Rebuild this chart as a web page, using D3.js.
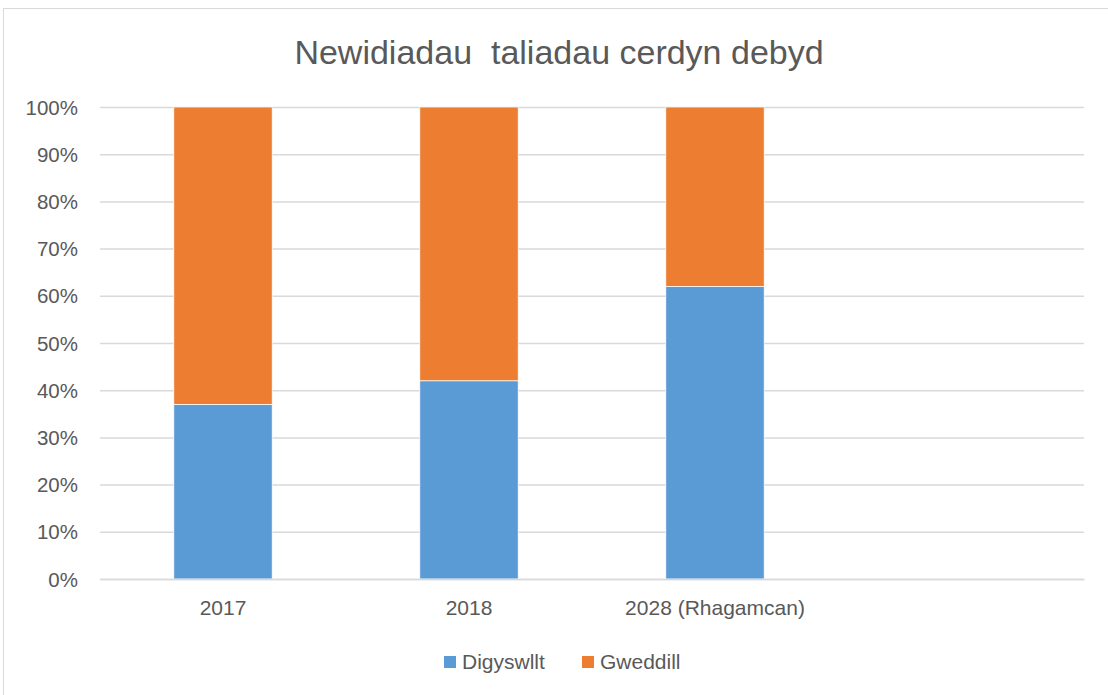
<!DOCTYPE html>
<html><head><meta charset="utf-8">
<script src="https://cdn.jsdelivr.net/npm/d3@7"></script>
<style>body{margin:0;background:#fff;}svg{display:block;}text{font-family:"Liberation Sans",sans-serif;fill:#595959;white-space:pre;}</style>
</head><body><svg id="c" width="1108" height="695"></svg>
<script>
const categories = ["2017", "2018", "2028 (Rhagamcan)", ""];
const seriesNames = ["Digyswllt", "Gweddill"];
const digyswllt = [0.37, 0.42, 0.62, null];
const gweddill = [0.63, 0.58, 0.38, null];
const yTicks = [0,0.1,0.2,0.3,0.4,0.5,0.6,0.7,0.8,0.9,1.0];
const colors = ["#5b9bd5", "#ed7d31"];
const title = "Newidiadau  taliadau cerdyn debyd";

const svg = d3.select("#c");
svg.append("rect").attr("x",3.5).attr("y",8.5).attr("width",1110).attr("height",700)
  .attr("fill","#fff").attr("stroke","#d9d9d9").attr("stroke-width",1);

const mLeft=100, mRight=1084, mTop=107, mBottom=579;
const x = d3.scaleBand().domain(categories.map((c,i)=>i)).range([mLeft,mRight]).paddingInner(0.6).paddingOuter(0.3);
const y = d3.scaleLinear().domain([0,1]).range([mBottom,mTop]);

svg.append("text").attr("x",559).attr("y",64).attr("text-anchor","middle")
  .style("font-size","34px").text(title);

const yAxis = svg.append("g").attr("transform",`translate(${mLeft},0)`)
  .call(d3.axisLeft(y).tickValues(yTicks).tickFormat(d3.format(".0%")).tickSize(-(mRight-mLeft)).tickPadding(22));
yAxis.select(".domain").remove();
yAxis.selectAll("line").attr("stroke","#d9d9d9").attr("stroke-width",1.5);
yAxis.selectAll("text").style("font-size","20.5px").attr("fill","#595959").attr("dy","0.35em");

const rows = categories.map((c,i)=>({i, d:digyswllt[i], g:gweddill[i]})).filter(r=>r.d!=null);
const stack = d3.stack().keys(["d","g"])(rows);
stack.forEach((layer,k)=>{
  svg.append("g").selectAll("rect").data(layer).join("rect")
    .attr("x",d=>x(d.data.i)).attr("width",x.bandwidth())
    .attr("y",d=>y(d[1])).attr("height",d=>y(d[0])-y(d[1]))
    .attr("fill",colors[k]).attr("stroke","#fff").attr("stroke-width",0.75);
});

const xAxis = svg.append("g").attr("transform",`translate(0,${mBottom})`)
  .call(d3.axisBottom(x).tickFormat(i=>categories[i]).tickSize(0).tickPadding(21));
xAxis.select(".domain").attr("stroke","#d9d9d9").attr("stroke-width",1.5);
xAxis.selectAll("text").style("font-size","21px").attr("fill","#595959");

const leg = svg.append("g");
const legX = [444, 582];
seriesNames.forEach((n,k)=>{
  leg.append("rect").attr("x",legX[k]).attr("y",656).attr("width",12).attr("height",12).attr("fill",colors[k]);
  leg.append("text").attr("x",legX[k]+18).attr("y",662).attr("dy","0.35em").style("font-size","21px").text(n);
});
</script></body></html>
